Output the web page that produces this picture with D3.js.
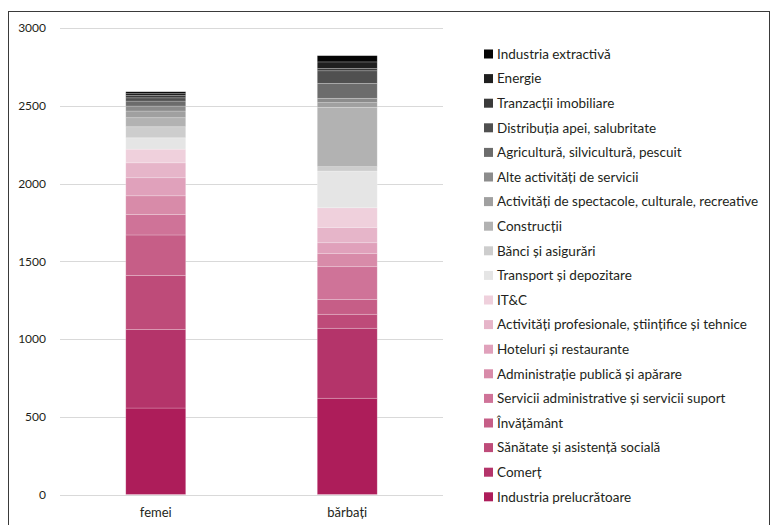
<!DOCTYPE html>
<html>
<head>
<meta charset="utf-8">
<script src="https://cdn.jsdelivr.net/npm/d3@7"></script>
<style>
  body { margin: 0; background: #fff; }
  svg text { font-family: Lato, "Open Sans", sans-serif; fill: #231f20; }
</style>
</head>
<body>
<div id="chart"></div>
<script>
var width = 773,
    height = 525;

// stack order, bottom to top
var sectors = [
  "Industria prelucrătoare", "Comerț", "Sănătate și asistență socială", "Învățământ",
  "Servicii administrative și servicii suport", "Administrație publică și apărare",
  "Hoteluri și restaurante", "Activități profesionale, științifice și tehnice", "IT&C",
  "Transport și depozitare", "Bănci și asigurări", "Construcții",
  "Activități de spectacole, culturale, recreative", "Alte activități de servicii",
  "Agricultură, silvicultură, pescuit", "Distribuția apei, salubritate",
  "Tranzacții imobiliare", "Energie", "Industria extractivă"
];
var colors = [
  "#ad1d5a", "#b4346a", "#be4b79", "#c65e87", "#cf7398", "#d88ba9", "#e0a1bb",
  "#e6b5c9", "#efd0dc", "#e5e5e5", "#cdcdcd", "#b2b2b2", "#a0a0a0", "#8c8c8c",
  "#6c6c6c", "#505050", "#3a3a3a", "#1f1f1f", "#050505"
];
var categories = ["femei", "bărbați"];
var femei   = [556, 506, 347, 260, 131, 121, 116, 96, 88, 73, 71, 58, 43, 32, 32, 21, 15, 12, 12];
var barbati = [619, 450, 90, 96, 210, 86, 68, 99, 126, 236, 28, 382, 30, 28, 96, 81, 15, 42, 40];
var yTicks = [0, 500, 1000, 1500, 2000, 2500, 3000];

var svg = d3.select('#chart').append('svg')
    .attr('width', width)
    .attr('height', height);

// outer frame
svg.append('rect')
    .attr('x', 8.5)
    .attr('y', 11.5)
    .attr('width', 761)
    .attr('height', 530)
    .style('fill', 'none')
    .style('stroke', '#3a3a3a')
    .style('stroke-width', 1);

var x = d3.scaleBand()
    .domain(categories)
    .range([60, 443])
    .paddingInner(0.687)
    .paddingOuter(0.3435);

var y = d3.scaleLinear()
    .domain([0, 3000])
    .range([494.5, 28]);

// gridlines
svg.append('g')
    .selectAll('line')
    .data(yTicks)
    .enter()
    .append('line')
    .attr('x1', 60)
    .attr('x2', 443)
    .attr('y1', function(d) { return Math.round(y(d)) + 0.5; })
    .attr('y2', function(d) { return Math.round(y(d)) + 0.5; })
    .style('stroke', '#d9d9d9')
    .style('stroke-width', 1);

var yAxis = svg.append('g')
    .attr('transform', 'translate(46,0)')
    .call(d3.axisLeft(y).tickValues(yTicks).tickSize(0).tickPadding(0).tickFormat(d3.format('d')));
yAxis.select('.domain').remove();
yAxis.selectAll('text')
    .style('font-size', '12px')
    .style('font-family', 'Lato, sans-serif')
    .attr('fill', '#231f20');

var xAxis = svg.append('g')
    .attr('transform', 'translate(0,' + 494.5 + ')')
    .call(d3.axisBottom(x).tickSize(0).tickPadding(13));
xAxis.select('.domain').remove();
xAxis.selectAll('text')
    .style('font-size', '13px')
    .style('font-family', 'Lato, sans-serif')
    .attr('fill', '#231f20');

// stacked data
var rows = categories.map(function(c, i) {
    var vals = i == 0 ? femei : barbati;
    var row = { cat: c };
    sectors.forEach(function(s, j) { row[s] = vals[j]; });
    return row;
});
var series = d3.stack().keys(sectors)(rows);

svg.append('g')
    .selectAll('g')
    .data(series)
    .enter()
    .append('g')
    .style('fill', function(d, i) { return colors[i]; })
    .selectAll('rect')
    .data(function(d) { return d; })
    .enter()
    .append('rect')
    .attr('x', function(d) { return x(d.data.cat); })
    .attr('width', x.bandwidth())
    .attr('y', function(d) { return y(d[1]); })
    .attr('height', function(d) { return y(d[0]) - y(d[1]); })
    .style('stroke', '#fff')
    .style('stroke-opacity', 0.3)
    .style('stroke-width', 0.7);

// legend, top item = top of stack
var legendItems = sectors.map(function(s, i) { return { name: s, color: colors[i] }; }).reverse();
var legend = svg.append('g')
    .attr('transform', 'translate(484,54)')
    .selectAll('g')
    .data(legendItems)
    .enter()
    .append('g')
    .attr('transform', function(d, i) { return 'translate(0,' + (i * 24.6) + ')'; });

legend.append('rect')
    .attr('x', 0)
    .attr('y', -4.5)
    .attr('width', 9)
    .attr('height', 9)
    .style('fill', function(d) { return d.color; });

legend.append('text')
    .attr('x', 13)
    .attr('dy', '0.35em')
    .style('font-size', '13.5px')
    .text(function(d) { return d.name; });
</script>
</body>
</html>
